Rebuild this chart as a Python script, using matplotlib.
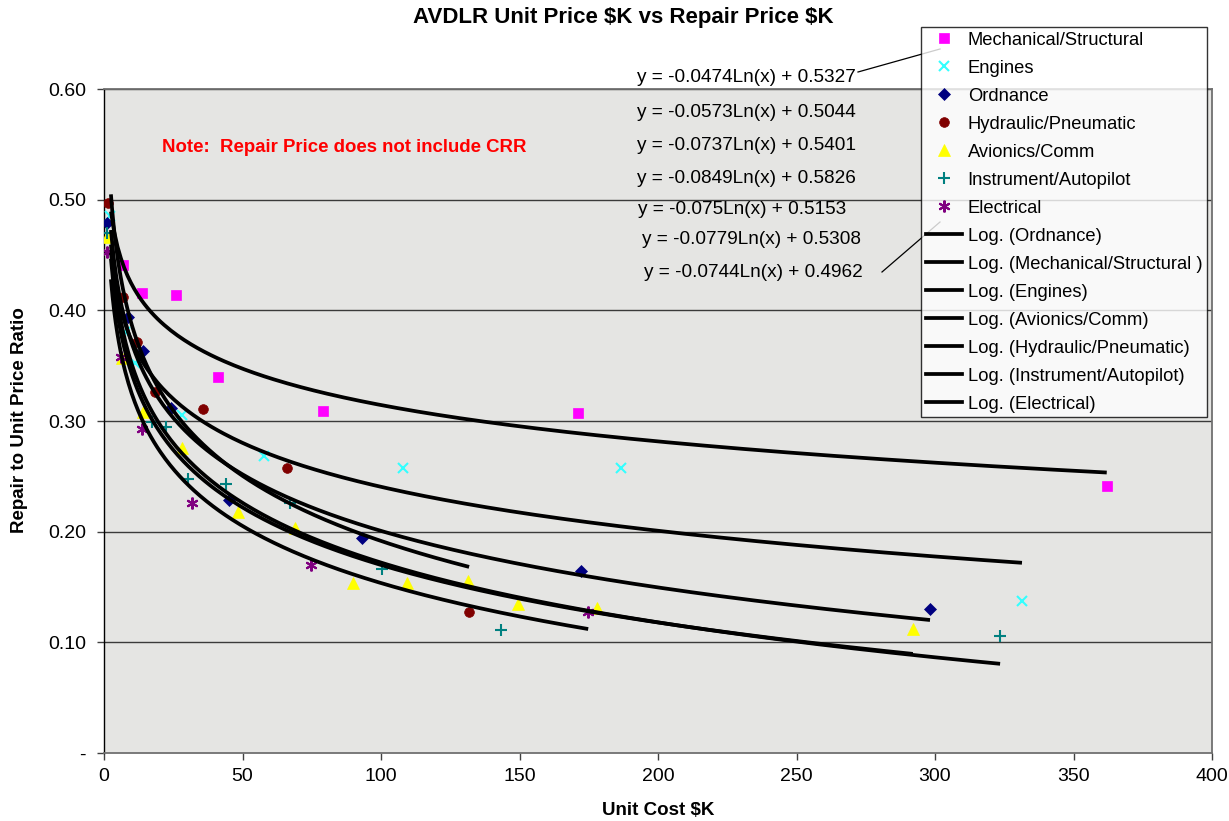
import numpy as np
import matplotlib
matplotlib.use("Agg")
import matplotlib.pyplot as plt
from matplotlib.lines import Line2D

plt.rcParams['font.family'] = ['Liberation Sans', 'DejaVu Sans']

# ---------------- data ----------------
series_names = ["Mechanical/Structural", "Engines", "Ordnance", "Hydraulic/Pneumatic",
                "Avionics/Comm", "Instrument/Autopilot", "Electrical"]

mech_x = [6.9, 13.7, 26.0, 41.2, 79.0, 171.0, 362.0]
mech_y = [0.441, 0.416, 0.414, 0.340, 0.309, 0.307, 0.241]

eng_x = [2.2, 7.6, 11.2, 28.2, 57.8, 108.0, 186.6, 331.4]
eng_y = [0.485, 0.380, 0.352, 0.305, 0.268, 0.2575, 0.2575, 0.137]

ord_x = [1.0, 8.7, 14.1, 24.2, 45.1, 93.1, 172.2, 298.2]
ord_y = [0.479, 0.394, 0.363, 0.312, 0.229, 0.194, 0.1645, 0.130]

hyd_x = [1.4, 6.9, 11.9, 18.4, 35.7, 66.0, 131.8]
hyd_y = [0.497, 0.412, 0.371, 0.326, 0.311, 0.2575, 0.1274]

avi_x = [1.0, 6.5, 14.1, 28.2, 48.4, 69.0, 90.0, 109.3, 131.4, 149.5, 178.0, 292.0]
avi_y = [0.466, 0.357, 0.308, 0.276, 0.218, 0.203, 0.154, 0.154, 0.155, 0.135, 0.131, 0.112]

ins_x = [1.0, 17.3, 22.4, 30.3, 44.0, 67.1, 100.4, 143.3, 323.5]
ins_y = [0.470, 0.299, 0.295, 0.248, 0.243, 0.226, 0.166, 0.111, 0.106]

ele_x = [1.0, 6.1, 13.7, 31.8, 74.7, 174.8]
ele_y = [0.453, 0.358, 0.293, 0.226, 0.170, 0.127]

# log trendline coefficients y = a*ln(x) + b
trend_a = [-0.0474, -0.0573, -0.0737, -0.0849, -0.075, -0.0779, -0.0744]
trend_b = [0.5327, 0.5044, 0.5401, 0.5826, 0.5153, 0.5308, 0.4962]
trend_x_start = 2.5

legend_line_order = ["Ordnance", "Mechanical/Structural ", "Engines", "Avionics/Comm",
                     "Hydraulic/Pneumatic", "Instrument/Autopilot", "Electrical"]

x_ticks = [0, 50, 100, 150, 200, 250, 300, 350, 400]
y_ticks = [0.0, 0.1, 0.2, 0.3, 0.4, 0.5, 0.6]
y_tick_labels = ["-", "0.10", "0.20", "0.30", "0.40", "0.50", "0.60"]

# ---------------- style ----------------
xs = [mech_x, eng_x, ord_x, hyd_x, avi_x, ins_x, ele_x]
ys = [mech_y, eng_y, ord_y, hyd_y, avi_y, ins_y, ele_y]
colors = ["#FF00FF", "#33FFFF", "#000080", "#800000", "#FFFF00", "#008080", "#800080"]
markers = ["s", "x", "D", "o", "^", "+", (6, 2, 0)]
msizes = [7, 7.5, 6.5, 7, 9, 8.5, 8.5]

W, H = 1229, 821
fig = plt.figure(figsize=(W / 100, H / 100), dpi=100)
fig.patch.set_facecolor("white")
ax = fig.add_axes([104 / W, 1 - 753 / H, (1212 - 104) / W, (753 - 89) / H])
ax.set_facecolor("#e5e5e3")

ax.set_xlim(0, 400)
ax.set_ylim(0, 0.6)
ax.set_xticks(x_ticks)
ax.set_yticks(y_ticks)
ax.set_yticklabels(y_tick_labels)
ax.tick_params(axis='both', labelsize=14, direction='out', length=5, width=1, color='#404040')
ax.tick_params(axis='x', pad=6)
ax.tick_params(axis='y', pad=8)

for yv in y_ticks[1:]:
    ax.axhline(yv, color='#3a3a3a', lw=1.0, zorder=1)

for sp in ['top', 'right', 'bottom']:
    ax.spines[sp].set_color('#707070')
    ax.spines[sp].set_linewidth(1.3)
ax.spines['left'].set_color('black')
ax.spines['left'].set_linewidth(1.0)

handles_pts = []
for i in range(7):
    thin = markers[i] in ("x", "+", (6, 2, 0))
    h, = ax.plot(xs[i], ys[i], linestyle='none', marker=markers[i], color=colors[i],
                 markersize=msizes[i], markeredgewidth=1.5 if thin else 0.5,
                 markeredgecolor=colors[i], zorder=3, label=series_names[i])
    handles_pts.append(h)

for i in range(7):
    xx = np.linspace(trend_x_start, max(xs[i]), 300)
    yy = trend_a[i] * np.log(xx) + trend_b[i]
    ax.plot(xx, yy, color='black', lw=2.7, zorder=4, solid_capstyle='butt')

# legend
leg_handles = list(handles_pts)
leg_labels = list(series_names)
for nm in legend_line_order:
    leg_handles.append(Line2D([], [], color='black', lw=2.7))
    leg_labels.append("Log. (" + nm + ")")
leg = fig.legend(leg_handles, leg_labels, loc='upper left',
                 bbox_to_anchor=(921 / W, 1 - 27 / H), fontsize=13.2,
                 frameon=True, fancybox=False, edgecolor='black',
                 borderpad=0.25, labelspacing=0.6, handlelength=2.0,
                 handletextpad=0.3, borderaxespad=0.0)
leg.get_frame().set_linewidth(1.0)
leg.get_frame().set_facecolor('white')
leg.set_zorder(10)

# equations
eq_pos = [(637, 78), (637, 112), (637, 145), (637, 178), (638, 210), (642, 240), (644, 272)]
for i in range(7):
    txt = f"y = {trend_a[i]:g}Ln(x) + {trend_b[i]:g}"
    fig.text(eq_pos[i][0] / W, 1 - eq_pos[i][1] / H, txt, fontsize=13.7,
             ha='left', va='center', color='black')

# leader lines
fig.add_artist(Line2D([858 / W, 940 / W], [1 - 72 / H, 1 - 49 / H], color='black', lw=0.9))
fig.add_artist(Line2D([882 / W, 940 / W], [1 - 272 / H, 1 - 222 / H], color='black', lw=0.9))

# title / labels / note
fig.text(623 / W, 1 - 18 / H, "AVDLR Unit Price \\$K vs Repair Price \\$K", fontsize=16,
         fontweight='bold', ha='center', va='center')
fig.text(658 / W, 1 - 810 / H, "Unit Cost \\$K", fontsize=13.5, fontweight='bold',
         ha='center', va='center')
fig.text(20 / W, 1 - 420 / H, "Repair to Unit Price Ratio", fontsize=13.5, fontweight='bold',
         ha='center', va='center', rotation=90)
fig.text(162 / W, 1 - 148 / H, "Note:  Repair Price does not include CRR", fontsize=13.4,
         fontweight='bold', color='#FF0000', ha='left', va='center')

fig.savefig("out.png", dpi=100)
